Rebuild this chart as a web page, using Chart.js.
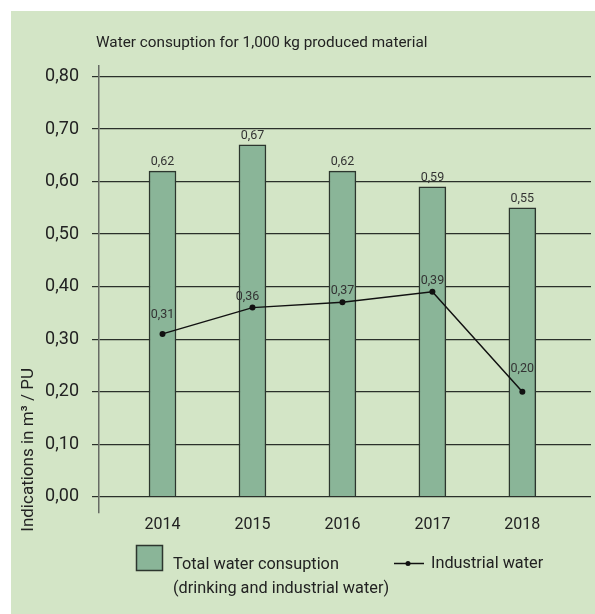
<!DOCTYPE html>
<html>
<head>
<meta charset="utf-8">
<script src="https://cdn.jsdelivr.net/npm/chart.js@4/dist/chart.umd.min.js"></script>
<style>
  body { margin: 0; background: #fff; }
  #panel { position: absolute; left: 11px; top: 11px; width: 584px; height: 603px; background: #d3e5c6; }
  #chart { position: absolute; left: 0; top: 0; }
</style>
</head>
<body>
<div id="panel"></div>
<canvas id="chart" width="595" height="614"></canvas>
<script>
const years = [2014, 2015, 2016, 2017, 2018];
const totalWater = [0.62, 0.67, 0.62, 0.59, 0.55];
const industrialWater = [0.31, 0.36, 0.37, 0.39, 0.20];
const yTicks = [0, 0.1, 0.2, 0.3, 0.4, 0.5, 0.6, 0.7, 0.8];

const chartTitle = "Water consuption for 1,000 kg produced material";
const yTitle = "Indications in m³ / PU";
const totalLabel = ["Total water consuption", "(drinking and industrial water)"];
const industrialLabel = "Industrial water";

const barFill = "#8ab598";
const barEdge = "#2c362e";
const ink = "#222";

// label nudges for the line points (px above point, px sideways)
const lineLabelLift = [19, 11, 11, 11, 23];
const lineLabelShift = [0, -5, 0, 0, 0];

const comma = (v) => v.toFixed(2).replace(".", ",");

Chart.defaults.font.family = "Roboto";
Chart.defaults.color = ink;

const extras = {
  id: "extras",
  afterDatasetsDraw(chart) {
    const ctx = chart.ctx;
    ctx.save();
    ctx.fillStyle = "#333";
    ctx.font = "12.5px Roboto";
    ctx.textAlign = "center";
    ctx.textBaseline = "middle";
    chart.getDatasetMeta(0).data.forEach((el, i) => {
      ctx.fillText(comma(totalWater[i]), el.x, el.y - 9);
    });
    chart.getDatasetMeta(1).data.forEach((el, i) => {
      ctx.fillText(comma(industrialWater[i]), el.x + lineLabelShift[i], el.y - lineLabelLift[i]);
    });

    // title
    ctx.fillStyle = ink;
    ctx.font = "15.3px Roboto";
    ctx.textAlign = "left";
    ctx.fillText(chartTitle, 96, 43);

    // y title
    ctx.save();
    ctx.translate(29, 368);
    ctx.rotate(-Math.PI / 2);
    ctx.textAlign = "right";
    ctx.font = "17px Roboto";
    ctx.fillText(yTitle, 0, 0);
    ctx.restore();

    // legend
    ctx.fillStyle = barFill;
    ctx.fillRect(136.5, 545.5, 26, 25);
    ctx.strokeStyle = barEdge;
    ctx.lineWidth = 1.5;
    ctx.strokeRect(136.5, 545.5, 26, 25);
    ctx.fillStyle = ink;
    ctx.font = "16.3px Roboto";
    ctx.fillText(totalLabel[0], 173, 565);
    ctx.fillText(totalLabel[1], 173, 589);

    ctx.strokeStyle = "#111";
    ctx.beginPath();
    ctx.moveTo(394, 563.5);
    ctx.lineTo(424, 563.5);
    ctx.stroke();
    ctx.fillStyle = "#111";
    ctx.beginPath();
    ctx.arc(408, 563.5, 2.5, 0, Math.PI * 2);
    ctx.fill();
    ctx.fillStyle = ink;
    ctx.fillText(industrialLabel, 431, 564);
    ctx.restore();
  }
};

new Chart(document.getElementById("chart"), {
  type: "bar",
  data: {
    datasets: [
      {
        label: totalLabel.join(" "),
        data: years.map((y, i) => ({ x: y, y: totalWater[i] })),
        backgroundColor: barFill,
        borderColor: barEdge,
        borderWidth: 1.5,
        barThickness: 27,
        order: 1,
      },
      {
        type: "line",
        label: industrialLabel,
        data: years.map((y, i) => ({ x: y, y: industrialWater[i] })),
        borderColor: "#111",
        borderWidth: 1.5,
        pointRadius: 3,
        pointBackgroundColor: "#111",
        pointBorderWidth: 0,
        tension: 0,
        order: 0,
      },
    ],
  },
  options: {
    responsive: false,
    animation: false,
    layout: { padding: { top: 66, left: 0, right: 0, bottom: 0 } },
    plugins: { legend: { display: false }, tooltip: { enabled: false } },
    scales: {
      x: {
        type: "linear",
        offset: false,
        min: 2013.294,
        max: 2018.763,
        grid: { display: false, offset: false },
        border: { display: false },
        ticks: {
          stepSize: 1,
          includeBounds: false,
          padding: -6,
          font: { size: 16 },
          color: ink,
          callback: (v) => String(v),
        },
        afterFit: (s) => { s.height = 101; },
      },
      y: {
        min: -0.031,
        max: 0.82,
        grid: { color: "#2a302a", lineWidth: 1.2, tickLength: 7 },
        border: { display: true, color: "#666b64", width: 1.5 },
        ticks: {
          stepSize: 0.1,
          includeBounds: false,
          padding: 13,
          font: { size: 18 },
          color: ink,
          callback: (v) => (yTicks.includes(Math.round(v * 10) / 10) ? comma(v) : ""),
        },
        afterFit: (s) => { s.width = 99; },
      },
    },
  },
  plugins: [extras],
});
</script>
</body>
</html>
